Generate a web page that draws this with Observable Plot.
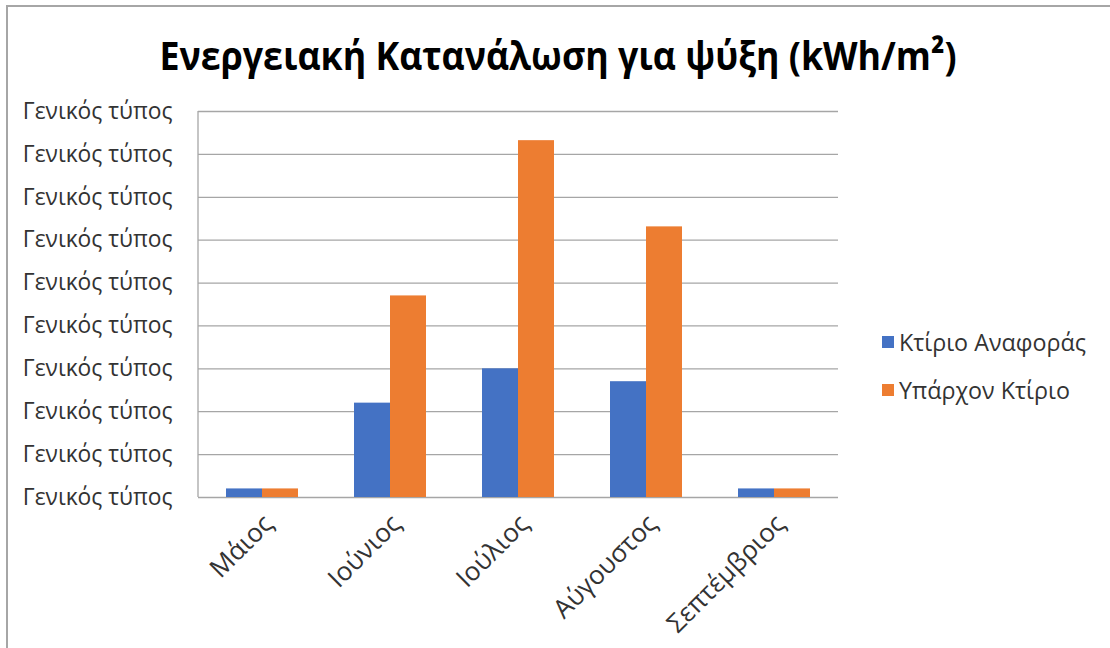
<!DOCTYPE html>
<html>
<head>
<meta charset="utf-8">
<script src="https://cdn.jsdelivr.net/npm/d3@7"></script>
<script src="https://cdn.jsdelivr.net/npm/@observablehq/plot@0.6"></script>
<style>
  html, body { margin: 0; padding: 0; background: #fff; }
  #wrap { position: relative; width: 1110px; height: 648px; overflow: hidden; background: #fff; font-family: "Open Sans", sans-serif; }
  #border { position: absolute; left: 6px; top: 5px; right: -10px; bottom: -10px; border-top: 2px solid #a6a6a6; border-left: 2px solid #a6a6a6; }
  #title { position: absolute; left: 6px; width: 1104px; top: 27px; text-align: center; }
  #title span { display: inline-block; font-weight: 700; font-size: 40px; color: #000; white-space: nowrap; transform-origin: center; }
  #chart { position: absolute; left: 0; top: 0; }
  #legend { position: absolute; left: 882px; top: 318px; }
  .li { display: flex; align-items: center; height: 48px; font-size: 23.3px; color: #333; white-space: nowrap; }
  .sw { width: 12px; height: 12px; margin-right: 5px; }
</style>
</head>
<body>
<div id="wrap">
  <div id="border"></div>
  <div id="title"><span>Ενεργειακή Κατανάλωση για ψύξη (kWh/m²)</span></div>
  <div id="chart"></div>
  <div id="legend"></div>
</div>
<script>
const months = ["Μάιος", "Ιούνιος", "Ιούλιος", "Αύγουστος", "Σεπτέμβριος"];
const seriesNames = ["Κτίριο Αναφοράς", "Υπάρχον Κτίριο"];
const referenceValues = [0.2, 2.2, 3.0, 2.7, 0.2];
const existingValues = [0.2, 4.7, 8.32, 6.31, 0.2];
const yTicks = [0, 1, 2, 3, 4, 5, 6, 7, 8, 9];
const yTickLabel = "Γενικός τύπος";
const colors = ["#4472C4", "#ED7D31"];

const data = [];
months.forEach((m, i) => {
  data.push({month: m, series: seriesNames[0], value: referenceValues[i]});
  data.push({month: m, series: seriesNames[1], value: existingValues[i]});
});

const marginLeft = 198;
const chart = Plot.plot({
  width: 1110,
  height: 648,
  marginTop: 111,
  marginBottom: 151,
  marginLeft: marginLeft,
  marginRight: 272,
  style: {fontFamily: "'Open Sans', sans-serif", fontSize: "22px", color: "#333", background: "transparent"},
  fx: {domain: months, padding: 0, label: null},
  x: {domain: seriesNames, paddingInner: 0, paddingOuter: 0.753, axis: null},
  y: {domain: [0, 9], label: null},
  color: {domain: seriesNames, range: colors},
  marks: [
    Plot.ruleY(yTicks, {stroke: "#a6a6a6", strokeWidth: 1.3}),
    Plot.barY(data, {fx: "month", x: "series", y: "value", fill: "series"}),
    Plot.axisY({ticks: yTicks, tickFormat: () => yTickLabel, tickSize: 0, tickPadding: 26, label: null, fontSize: 22.8}),
    Plot.axisFx({anchor: "bottom", tickRotate: -45, tickSize: 0, tickPadding: 12, label: null, fontSize: 26, dx: 6, dy: 10})
  ]
});

const yr = chart.scale("y").range;
d3.select(chart).append("line")
  .attr("x1", marginLeft).attr("x2", marginLeft)
  .attr("y1", yr[0]).attr("y2", yr[1])
  .attr("stroke", "#a6a6a6").attr("stroke-width", 1.3);

document.getElementById("chart").appendChild(chart);

const legend = document.getElementById("legend");
seriesNames.forEach((s, i) => {
  const row = document.createElement("div");
  row.className = "li";
  const sw = document.createElement("div");
  sw.className = "sw";
  sw.style.background = colors[i];
  row.appendChild(sw);
  row.appendChild(document.createTextNode(s));
  legend.appendChild(row);
});

const t = document.querySelector("#title span");
const w = t.getBoundingClientRect().width;
t.style.transform = `scaleX(${797 / w})`;
</script>
</body>
</html>
